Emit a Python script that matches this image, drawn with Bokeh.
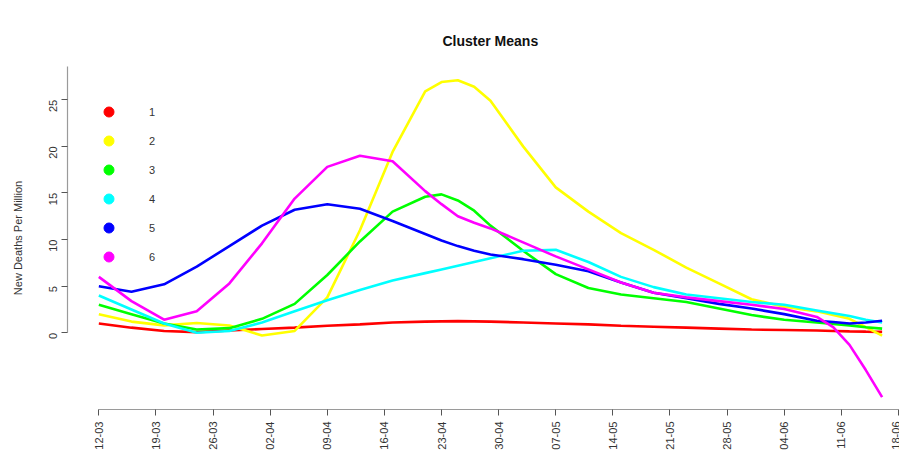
import math
from bokeh.plotting import figure
from bokeh.models import FixedTicker, Legend, LegendItem
from bokeh.embed import file_html
from bokeh.resources import INLINE

# days since 12-03
days = [0, 4, 8, 12, 16, 20, 24, 28, 32, 36, 40, 42, 44, 46, 48, 52, 56, 60, 64, 68, 72, 76, 80, 84, 88, 90, 92, 94, 96]

cluster1 = [1.0, 0.55, 0.2, 0.07, 0.25, 0.4, 0.55, 0.75, 0.9, 1.1, 1.2, 1.23, 1.25, 1.23, 1.2, 1.1, 1.0, 0.9, 0.75, 0.65, 0.55, 0.45, 0.35, 0.3, 0.25, 0.2, 0.15, 0.12, 0.1]
cluster2 = [2.0, 1.2, 0.8, 1.05, 0.78, -0.3, 0.2, 3.8, 11.0, 19.4, 25.9, 26.9, 27.1, 26.4, 24.9, 20.0, 15.6, 13.0, 10.7, 8.9, 7.0, 5.3, 3.6, 2.8, 2.3, 1.9, 1.5, 0.6, -0.3]
cluster3 = [3.0, 2.0, 1.0, 0.35, 0.5, 1.5, 3.1, 6.2, 9.8, 13.0, 14.6, 14.85, 14.2, 13.1, 11.5, 8.8, 6.3, 4.8, 4.1, 3.7, 3.3, 2.6, 1.9, 1.4, 1.1, 0.95, 0.8, 0.6, 0.45]
cluster4 = [4.0, 2.5, 1.0, 0.0, 0.2, 1.1, 2.3, 3.5, 4.6, 5.6, 6.4, 6.8, 7.2, 7.6, 8.0, 8.8, 8.9, 7.6, 6.0, 4.9, 4.1, 3.7, 3.3, 3.0, 2.4, 2.1, 1.8, 1.4, 1.1]
cluster5 = [5.0, 4.4, 5.2, 7.1, 9.3, 11.5, 13.2, 13.8, 13.3, 12.0, 10.6, 9.9, 9.3, 8.8, 8.4, 7.9, 7.3, 6.6, 5.4, 4.3, 3.7, 3.1, 2.6, 2.0, 1.3, 1.15, 1.0, 1.1, 1.3]
cluster6 = [6.0, 3.4, 1.4, 2.3, 5.3, 9.6, 14.4, 17.8, 19.0, 18.4, 15.2, 13.8, 12.5, 11.8, 11.2, 9.7, 8.2, 6.8, 5.4, 4.3, 3.8, 3.4, 3.0, 2.55, 1.7, 0.6, -1.3, -4.0, -6.9]

series = [cluster1, cluster2, cluster3, cluster4, cluster5, cluster6]
cluster_names = ["1", "2", "3", "4", "5", "6"]
colors = ["#FF0000", "#FFFF00", "#00FF00", "#00FFFF", "#0000FF", "#FF00FF"]

tick_days = [0, 7, 14, 21, 28, 35, 42, 49, 56, 63, 70, 77, 84, 91, 98]
tick_labels = ["12-03", "19-03", "26-03", "02-04", "09-04", "16-04", "23-04", "30-04",
               "07-05", "14-05", "21-05", "28-05", "04-06", "11-06", "18-06"]
y_ticks = [0, 5, 10, 15, 20, 25]

FONT = "Liberation Sans"

p = figure(width=899, height=461, output_backend="svg", toolbar_location=None,
           x_range=(-3.84, 98.13), y_range=(-8.23, 28.57),
           min_border_left=67, min_border_right=0, min_border_top=66, min_border_bottom=52,
           title="Cluster Means")
p.background_fill_color = "white"
p.border_fill_color = "white"
p.outline_line_color = None
p.grid.visible = False

p.title.text_font = FONT
p.title.text_font_size = "14px"
p.title.text_font_style = "bold"
p.title.text_color = "#111111"
p.title.align = "left"
p.title.offset = 375
p.title.standoff = 36

for ax in (p.xaxis[0], p.yaxis[0]):
    ax.axis_line_color = "#9a9a9a"
    ax.axis_line_width = 1.2
    ax.major_tick_line_color = "#555555"
    ax.major_tick_out = 6
    ax.major_tick_in = 0
    ax.minor_tick_line_color = None
    ax.major_label_text_font = FONT
    ax.major_label_text_font_size = "11px"
    ax.major_label_text_color = "#333333"
    ax.major_label_orientation = math.pi / 2

p.xaxis.major_label_standoff = 6
p.xaxis.ticker = FixedTicker(ticks=tick_days)
p.xaxis.major_label_overrides = {d: lab for d, lab in zip(tick_days, tick_labels)}
p.xaxis.bounds = (0, 98)

p.yaxis.major_label_standoff = 8
p.yaxis.ticker = FixedTicker(ticks=y_ticks)
p.yaxis.bounds = (0, 28.57)
p.yaxis.axis_label = "New Deaths Per Million"
p.yaxis.axis_label_text_font = FONT
p.yaxis.axis_label_text_font_size = "11px"
p.yaxis.axis_label_text_font_style = "normal"
p.yaxis.axis_label_text_color = "#333333"
p.yaxis.axis_label_standoff = 19

items = []
for name, vals, col in zip(cluster_names, series, colors):
    p.line(days, vals, line_color=col, line_width=2.6)
    r = p.scatter(days, vals, size=10, fill_color=col, line_color=col, visible=False)
    items.append(LegendItem(label=name, renderers=[r]))

legend = Legend(items=items, location=(29, 140), padding=0, margin=0, spacing=4,
                glyph_width=25, glyph_height=25, label_standoff=28,
                label_text_font=FONT, label_text_font_size="11px", label_text_color="#333333",
                background_fill_alpha=0, border_line_color=None)
p.add_layout(legend)

open("out.html", "w").write(file_html(p, INLINE))
